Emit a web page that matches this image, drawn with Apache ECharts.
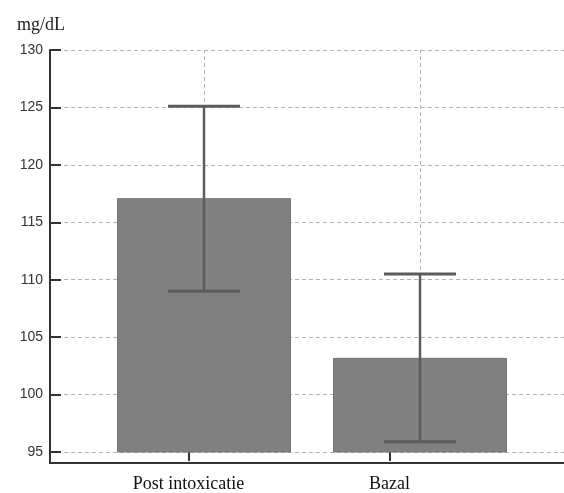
<!DOCTYPE html>
<html>
<head>
  <meta charset="UTF-8">
  <title>mg/dL</title>
  <script src="https://cdn.jsdelivr.net/npm/echarts@6/dist/echarts.min.js"></script>
  <style>
    html, body { margin: 0; padding: 0; background: #fff; }
    #chart { width: 564px; height: 493px; }
  </style>
</head>
<body>
  <div id="chart"></div>
  <script>
    // data
    const categories = ['Post intoxicatie', 'Bazal']
    const means = [117.1, 103.2]
    const errLow = [109.0, 95.9]
    const errHigh = [125.1, 110.5]
    const yMin = 95
    const yMax = 130
    const yStep = 5

    const axisColor = '#333'
    const gridColor = '#b4b4b4'
    const serif = '"Liberation Serif", "DejaVu Serif", serif'
    const sans = '"Liberation Sans", Arial, sans-serif'

    const errData = categories.map((c, i) => [i, errLow[i], errHigh[i]])

    const chart = echarts.init(document.getElementById('chart'))
    chart.setOption({
      animation: false,
      title: {
        text: 'mg/dL',
        left: 12,
        top: 11,
        textStyle: { fontFamily: serif, fontSize: 18, fontWeight: 'normal', color: '#222' }
      },
      grid: [
        // frame (axis lines), goes a bit below 95
        { left: 50, right: 0, top: 50, bottom: 30 },
        // y scale: labels, ticks, dashed lines
        { left: 50, right: 0, top: 50, bottom: 41 },
        // x labels and ticks
        { left: 88, right: 74, top: 50, bottom: 30 },
        // bars
        { left: 96, right: 36, top: 50, bottom: 41 }
      ],
      xAxis: [
        {
          gridIndex: 0, type: 'category', data: categories,
          axisLine: { show: true, lineStyle: { color: axisColor, width: 2 } },
          axisTick: { show: false }, axisLabel: { show: false }, splitLine: { show: false }
        },
        {
          gridIndex: 1, type: 'category', data: categories, show: false
        },
        {
          gridIndex: 2, type: 'category', data: categories,
          axisLine: { show: false },
          axisTick: { show: true, inside: true, length: 10, alignWithLabel: true, lineStyle: { color: axisColor, width: 2 } },
          axisLabel: { fontFamily: serif, fontSize: 18, color: '#111', margin: 14 },
          splitLine: { show: false }
        },
        {
          gridIndex: 3, type: 'category', data: categories, show: false
        }
      ],
      yAxis: [
        {
          gridIndex: 0, type: 'value', min: 0, max: 1,
          axisLine: { show: true, lineStyle: { color: axisColor, width: 2 } },
          axisTick: { show: false }, axisLabel: { show: false }, splitLine: { show: false }
        },
        {
          gridIndex: 1, type: 'value', min: yMin, max: yMax, interval: yStep,
          axisLine: { show: false },
          axisTick: { show: true, inside: true, length: 11, lineStyle: { color: axisColor, width: 2 } },
          axisLabel: { fontFamily: sans, fontSize: 14, color: '#333', margin: 7 },
          splitLine: { show: true, lineStyle: { color: gridColor, type: [4, 3], width: 1 } }
        },
        {
          gridIndex: 2, type: 'value', min: yMin, max: yMax, show: false
        },
        {
          gridIndex: 3, type: 'value', min: yMin, max: yMax, show: false
        }
      ],
      series: [
        {
          // vertical dashed lines at the bar centres, behind the bars
          type: 'line',
          xAxisIndex: 3, yAxisIndex: 3,
          data: [],
          z: 1,
          markLine: {
            z: 1,
            silent: true,
            symbol: 'none',
            label: { show: false },
            lineStyle: { color: gridColor, type: [4, 3], width: 1 },
            data: categories.map(c => ({ xAxis: c }))
          }
        },
        {
          type: 'bar',
          xAxisIndex: 3, yAxisIndex: 3,
          data: means,
          barWidth: 174,
          z: 2,
          itemStyle: { color: '#808080', borderColor: '#747474', borderWidth: 1 }
        },
        {
          type: 'custom',
          xAxisIndex: 3, yAxisIndex: 3,
          data: errData,
          z: 3,
          renderItem: function (params, api) {
            const x = api.value(0)
            const lo = api.coord([x, api.value(1)])
            const hi = api.coord([x, api.value(2)])
            const half = 36
            const style = { stroke: '#5c5c5c', lineWidth: 2.5 }
            const capStyle = { stroke: '#5c5c5c', lineWidth: 3 }
            return {
              type: 'group',
              children: [
                { type: 'line', shape: { x1: hi[0], y1: hi[1], x2: lo[0], y2: lo[1] }, style: style },
                { type: 'line', shape: { x1: hi[0] - half, y1: hi[1], x2: hi[0] + half, y2: hi[1] }, style: capStyle },
                { type: 'line', shape: { x1: lo[0] - half, y1: lo[1], x2: lo[0] + half, y2: lo[1] }, style: capStyle }
              ]
            }
          }
        }
      ]
    })
  </script>
</body>
</html>
